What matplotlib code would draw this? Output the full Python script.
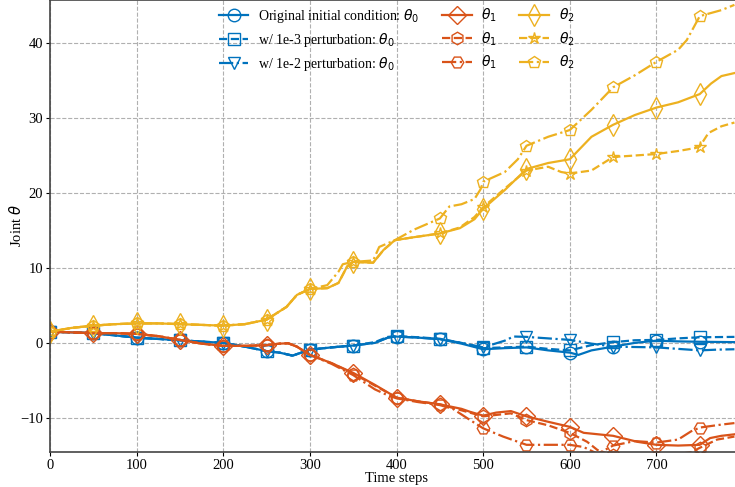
import numpy as np
import matplotlib
matplotlib.use('Agg')
import matplotlib.pyplot as plt

plt.rcParams['font.family'] = ['Liberation Serif', 'DejaVu Serif']
plt.rcParams['mathtext.fontset'] = 'dejavusans'
plt.rcParams['axes.unicode_minus'] = True

# colours (matlab-ish)
c_blue = '#0072BD'
c_red = '#D95319'
c_yel = '#EDB120'

mark_t = np.arange(0, 800, 50)

# ---- theta_0 ----
t0_a = [0, 50, 100, 150, 200, 225, 250, 265, 280, 290, 300, 325, 350, 375, 390, 400, 425, 450, 475, 500,
        525, 550, 575, 600, 610, 625, 650, 675, 700, 725, 750, 790]
th0_orig = [1.5, 1.3, 0.7, 0.35, 0.0, -0.5, -1.1, -1.3, -1.7, -1.3, -0.9, -0.6, -0.35, 0.0, 0.7, 0.85, 0.7, 0.5,
            -0.1, -0.85, -0.7, -0.6, -1.0, -1.3, -1.6, -1.0, -0.5, 0.0, 0.3, 0.2, 0.15, 0.1]
t0_b = [0, 50, 100, 150, 200, 225, 250, 265, 280, 290, 300, 325, 350, 375, 390, 400, 425, 450, 475, 500,
        525, 550, 575, 600, 625, 650, 675, 700, 725, 750, 790]
th0_p3 = [1.5, 1.3, 0.7, 0.35, 0.0, -0.5, -1.1, -1.3, -1.7, -1.3, -0.9, -0.6, -0.35, 0.1, 0.8, 0.9, 0.75, 0.55,
          0.0, -0.7, -0.6, -0.5, -0.8, -1.0, -0.3, 0.1, 0.35, 0.4, 0.6, 0.75, 0.8]
t0_c = [0, 50, 100, 150, 200, 225, 250, 265, 280, 290, 300, 325, 350, 375, 390, 400, 425, 450, 475, 500,
        525, 535, 550, 575, 600, 625, 650, 675, 700, 725, 750, 770, 790]
th0_p2 = [1.5, 1.3, 0.7, 0.35, 0.0, -0.5, -1.1, -1.3, -1.7, -1.3, -0.9, -0.6, -0.35, 0.0, 0.7, 0.85, 0.7, 0.5,
          0.0, -0.6, 0.3, 0.85, 0.8, 0.6, 0.4, -0.1, -0.5, -0.55, -0.6, -0.8, -1.0, -0.9, -0.85]

# ---- theta_1 ----
t1_a = [0, 25, 50, 75, 100, 125, 150, 175, 200, 225, 250, 265, 275, 285, 300, 325, 350, 375, 400, 425, 450,
        475, 485, 500, 515, 532, 550, 574, 600, 616, 650, 678, 700, 725, 750, 762, 775, 790]
th1_orig = [1.5, 1.4, 1.3, 1.3, 1.2, 0.9, 0.4, -0.1, -0.4, -0.4, -0.3, -0.1, -0.05, -0.5, -1.6, -2.7, -4.0,
            -5.6, -7.3, -7.8, -8.2, -8.8, -9.2, -9.7, -9.3, -9.1, -9.8, -10.5, -11.2, -12.0, -12.4, -13.2,
            -13.6, -13.7, -13.6, -12.7, -12.4, -12.2]
t1_b = [0, 25, 50, 75, 100, 125, 150, 175, 200, 225, 250, 265, 275, 285, 300, 325, 350, 375, 400, 425, 450,
        475, 500, 532, 550, 575, 600, 620, 632, 650, 700, 740, 750, 770, 790]
th1_p3 = [1.5, 1.4, 1.3, 1.3, 1.2, 0.9, 0.4, -0.1, -0.4, -0.4, -0.3, -0.1, -0.05, -0.5, -1.6, -2.7, -4.1,
          -5.7, -7.3, -7.8, -8.2, -9.0, -9.8, -9.4, -10.3, -11.0, -12.0, -13.2, -14.3, -15.0, -15.2, -14.6,
          -14.0, -12.9, -12.5]
t1_c = [0, 25, 50, 75, 100, 125, 150, 175, 200, 225, 250, 265, 275, 285, 300, 325, 350, 375, 390, 400, 425,
        450, 465, 485, 500, 523, 550, 600, 616, 632, 650, 675, 700, 725, 740, 750, 775, 790]
th1_p2 = [1.5, 1.4, 1.3, 1.3, 1.2, 0.9, 0.4, -0.1, -0.4, -0.4, -0.3, -0.1, -0.05, -0.5, -1.6, -2.8, -4.3,
          -6.2, -7.0, -7.4, -7.9, -8.3, -8.8, -10.3, -11.4, -12.5, -13.6, -13.6, -13.9, -14.8, -13.7, -13.1,
          -13.3, -12.9, -11.8, -11.3, -10.9, -10.7]

# ---- theta_2 ----
t2_a = [0, 25, 50, 75, 100, 125, 150, 175, 200, 225, 250, 273, 285, 300, 320, 333, 343, 350, 373, 385, 398,
        420, 450, 473, 490, 500, 525, 550, 575, 600, 625, 650, 675, 700, 725, 750, 763, 775, 790]
th2_orig = [1.5, 2.0, 2.3, 2.5, 2.6, 2.6, 2.5, 2.4, 2.3, 2.5, 3.1, 4.8, 6.4, 7.2, 7.3, 8.0, 10.2, 10.8, 10.7,
            12.4, 13.7, 14.1, 14.6, 15.3, 16.5, 17.9, 20.4, 23.2, 24.0, 24.5, 27.5, 29.1, 30.4, 31.4, 32.1,
            33.2, 34.6, 35.6, 36.0]
t2_b = [0, 25, 50, 75, 100, 125, 150, 175, 200, 225, 250, 273, 285, 300, 320, 333, 343, 350, 373, 385, 398,
        420, 450, 473, 490, 500, 525, 550, 575, 590, 600, 625, 650, 675, 700, 725, 745, 750, 760, 775, 790]
th2_p3 = [1.5, 2.0, 2.3, 2.5, 2.6, 2.6, 2.5, 2.4, 2.3, 2.5, 3.1, 4.8, 6.4, 7.2, 7.3, 8.0, 10.2, 10.8, 10.7,
          12.4, 13.7, 14.1, 14.6, 15.4, 16.8, 18.1, 20.6, 23.0, 23.5, 22.8, 22.6, 23.0, 24.8, 25.0, 25.2,
          25.6, 26.0, 26.2, 28.0, 28.9, 29.4]
t2_c = [0, 25, 50, 75, 100, 125, 150, 175, 200, 225, 250, 273, 285, 300, 320, 333, 338, 350, 373, 380, 398,
        420, 450, 461, 475, 490, 497, 500, 525, 540, 550, 575, 600, 625, 650, 675, 700, 725, 735, 750, 775, 790]
th2_p2 = [1.5, 2.0, 2.3, 2.5, 2.6, 2.6, 2.5, 2.4, 2.3, 2.5, 3.1, 4.8, 6.4, 7.2, 7.7, 9.5, 10.5, 10.8, 11.0,
          12.8, 13.7, 15.1, 16.6, 18.2, 18.5, 19.2, 20.5, 21.5, 22.8, 24.5, 26.3, 27.5, 28.4, 31.1, 34.1, 35.7,
          37.5, 39.1, 40.4, 43.6, 44.4, 45.1]

labels0 = ['Original initial condition: $\\theta_0$', 'w/ 1e-3 perturbation: $\\theta_0$',
           'w/ 1e-2 perturbation: $\\theta_0$']
labels1 = ['$\\theta_1$'] * 3
labels2 = ['$\\theta_2$'] * 3

series = [
    (t0_a, th0_orig, c_blue, '-', 'o', labels0[0]),
    (t0_b, th0_p3, c_blue, '--', 's', labels0[1]),
    (t0_c, th0_p2, c_blue, '-.', 'v', labels0[2]),
    (t1_a, th1_orig, c_red, '-', 'D', labels1[0]),
    (t1_b, th1_p3, c_red, '--', 'h', labels1[1]),
    (t1_c, th1_p2, c_red, '-.', 'H', labels1[2]),
    (t2_a, th2_orig, c_yel, '-', 'd', labels2[0]),
    (t2_b, th2_p3, c_yel, '--', '*', labels2[1]),
    (t2_c, th2_p2, c_yel, '-.', 'p', labels2[2]),
]

fig = plt.figure(figsize=(7.35, 4.87), dpi=100)
ax = fig.add_axes([0.068, 0.072, 0.943, 0.928])

for t, y, c, ls, m, lab in series:
    t = np.array(t)
    idx = list(np.where(np.isin(t, mark_t))[0])
    ax.plot(t, y, color=c, linestyle=ls, marker=m, markevery=idx, markersize=11 if m == 'd' else 9,
            markerfacecolor='none', markeredgewidth=1.0, linewidth=1.6, label=lab)

ax.set_xlim(0, 800)
ax.set_ylim(-14.55, 45.75)
ax.set_xticks([0, 100, 200, 300, 400, 500, 600, 700])
ax.set_yticks([-10, 0, 10, 20, 30, 40])
ax.grid(True, linestyle='--', color='#b0b0b0', linewidth=0.8)
ax.tick_params(labelsize=10.5, length=3, pad=2)
ax.set_xlabel('Time steps', fontsize=10.5, labelpad=0)
ax.set_ylabel('Joint $\\theta$', fontsize=10.5)
ax.yaxis.set_label_coords(-0.038, 0.5)
for s in ax.spines.values():
    s.set_color('#444444')
    s.set_linewidth(1.2)

ax.legend(ncol=3, loc='upper center', bbox_to_anchor=(0.5, 1.012), frameon=False, fontsize=10,
          handlelength=2.15, handletextpad=0.7, columnspacing=1.6, labelspacing=0.42)

fig.savefig('out.png', dpi=100)
